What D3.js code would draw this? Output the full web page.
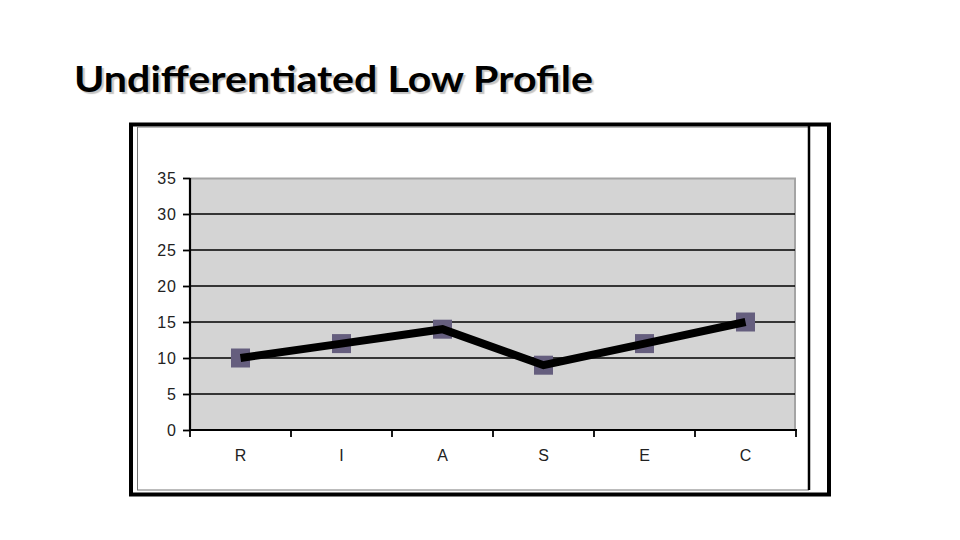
<!DOCTYPE html>
<html><head><meta charset="utf-8">
<script src="https://cdn.jsdelivr.net/npm/d3@7"></script>
<style>body{margin:0;background:#fff}svg{display:block}</style>
</head><body>
<svg id="c" width="960" height="540"></svg>
<script>
const categories = ["R","I","A","S","E","C"];
const values = [10,12,14,9,12,15];
const yTicks = [0,5,10,15,20,25,30,35];
const title = "Undifferentiated Low Profile";

const svg = d3.select("#c");

// title with slight shadow
svg.append("text").attr("x",74).attr("y",92)
  .attr("font-family","Lato, Open Sans, sans-serif").attr("font-weight","bold")
  .attr("font-size",36).attr("fill","#000").attr("textLength",519).attr("lengthAdjust","spacingAndGlyphs")
  .style("text-shadow","2px 2px 1px #c4c4c4")
  .text(title);

// frame
svg.append("rect").attr("x",131).attr("y",124.5).attr("width",698).attr("height",370)
  .attr("fill","#fff").attr("stroke","#000").attr("stroke-width",4);
svg.append("rect").attr("x",137.5).attr("y",127).attr("width",671).attr("height",363)
  .attr("fill","none").attr("stroke","#777").attr("stroke-width",1);
svg.append("line").attr("x1",809).attr("x2",809).attr("y1",124).attr("y2",490)
  .attr("stroke","#000").attr("stroke-width",2.5);

const x = d3.scaleBand().domain(categories).range([190,796]);
const y = d3.scaleLinear().domain([0,35]).range([430,178]);

// plot area
svg.append("rect").attr("x",190).attr("y",178).attr("width",606).attr("height",252)
  .attr("fill","#d4d4d4");
svg.append("path").attr("d",`M190,178.5H795V430`).attr("fill","none")
  .attr("stroke","#a4a4a4").attr("stroke-width",2);

// gridlines
svg.append("g").selectAll("line").data(yTicks.filter(d=>d>0 && d<35)).join("line")
  .attr("x1",190).attr("x2",795).attr("y1",d=>y(d)).attr("y2",d=>y(d))
  .attr("stroke","#000").attr("stroke-width",1.6);

// y axis
const ya = svg.append("g").attr("transform","translate(190,0)")
  .call(d3.axisLeft(y).tickValues(yTicks).tickSize(7).tickPadding(6));
ya.select(".domain").attr("stroke-width",2.2).attr("d","M0,178V431");
ya.selectAll(".tick line").attr("stroke-width",1.8);
ya.selectAll("text").attr("font-family","Liberation Sans, Arial, sans-serif")
  .attr("font-size",16).attr("fill","#222").attr("letter-spacing",1);

// x axis
const xa = svg.append("g").attr("transform","translate(0,430)")
  .call(d3.axisBottom(x).tickSize(0).tickPadding(20));
xa.select(".domain").attr("stroke-width",2.2).attr("d","M190,0H797");
xa.selectAll("text").attr("font-family","Liberation Sans, Arial, sans-serif")
  .attr("font-size",16).attr("fill","#222");
svg.append("g").selectAll("line").data(categories.map(c=>x(c)).concat([x.range()[1]])).join("line")
  .attr("x1",d=>d).attr("x2",d=>d).attr("y1",430).attr("y2",437)
  .attr("stroke","#000").attr("stroke-width",1.8);

const pts = categories.map((c,i)=>[x(c)+x.bandwidth()/2, y(values[i])]);

// markers
svg.append("g").selectAll("rect").data(pts).join("rect")
  .attr("x",d=>d[0]-9.5).attr("y",d=>d[1]-9.5).attr("width",19).attr("height",19)
  .attr("fill","#655e7e");

// line
svg.append("path").attr("d",d3.line()(pts)).attr("fill","none")
  .attr("stroke","#000").attr("stroke-width",8).attr("stroke-linejoin","miter");
</script>
</body></html>
